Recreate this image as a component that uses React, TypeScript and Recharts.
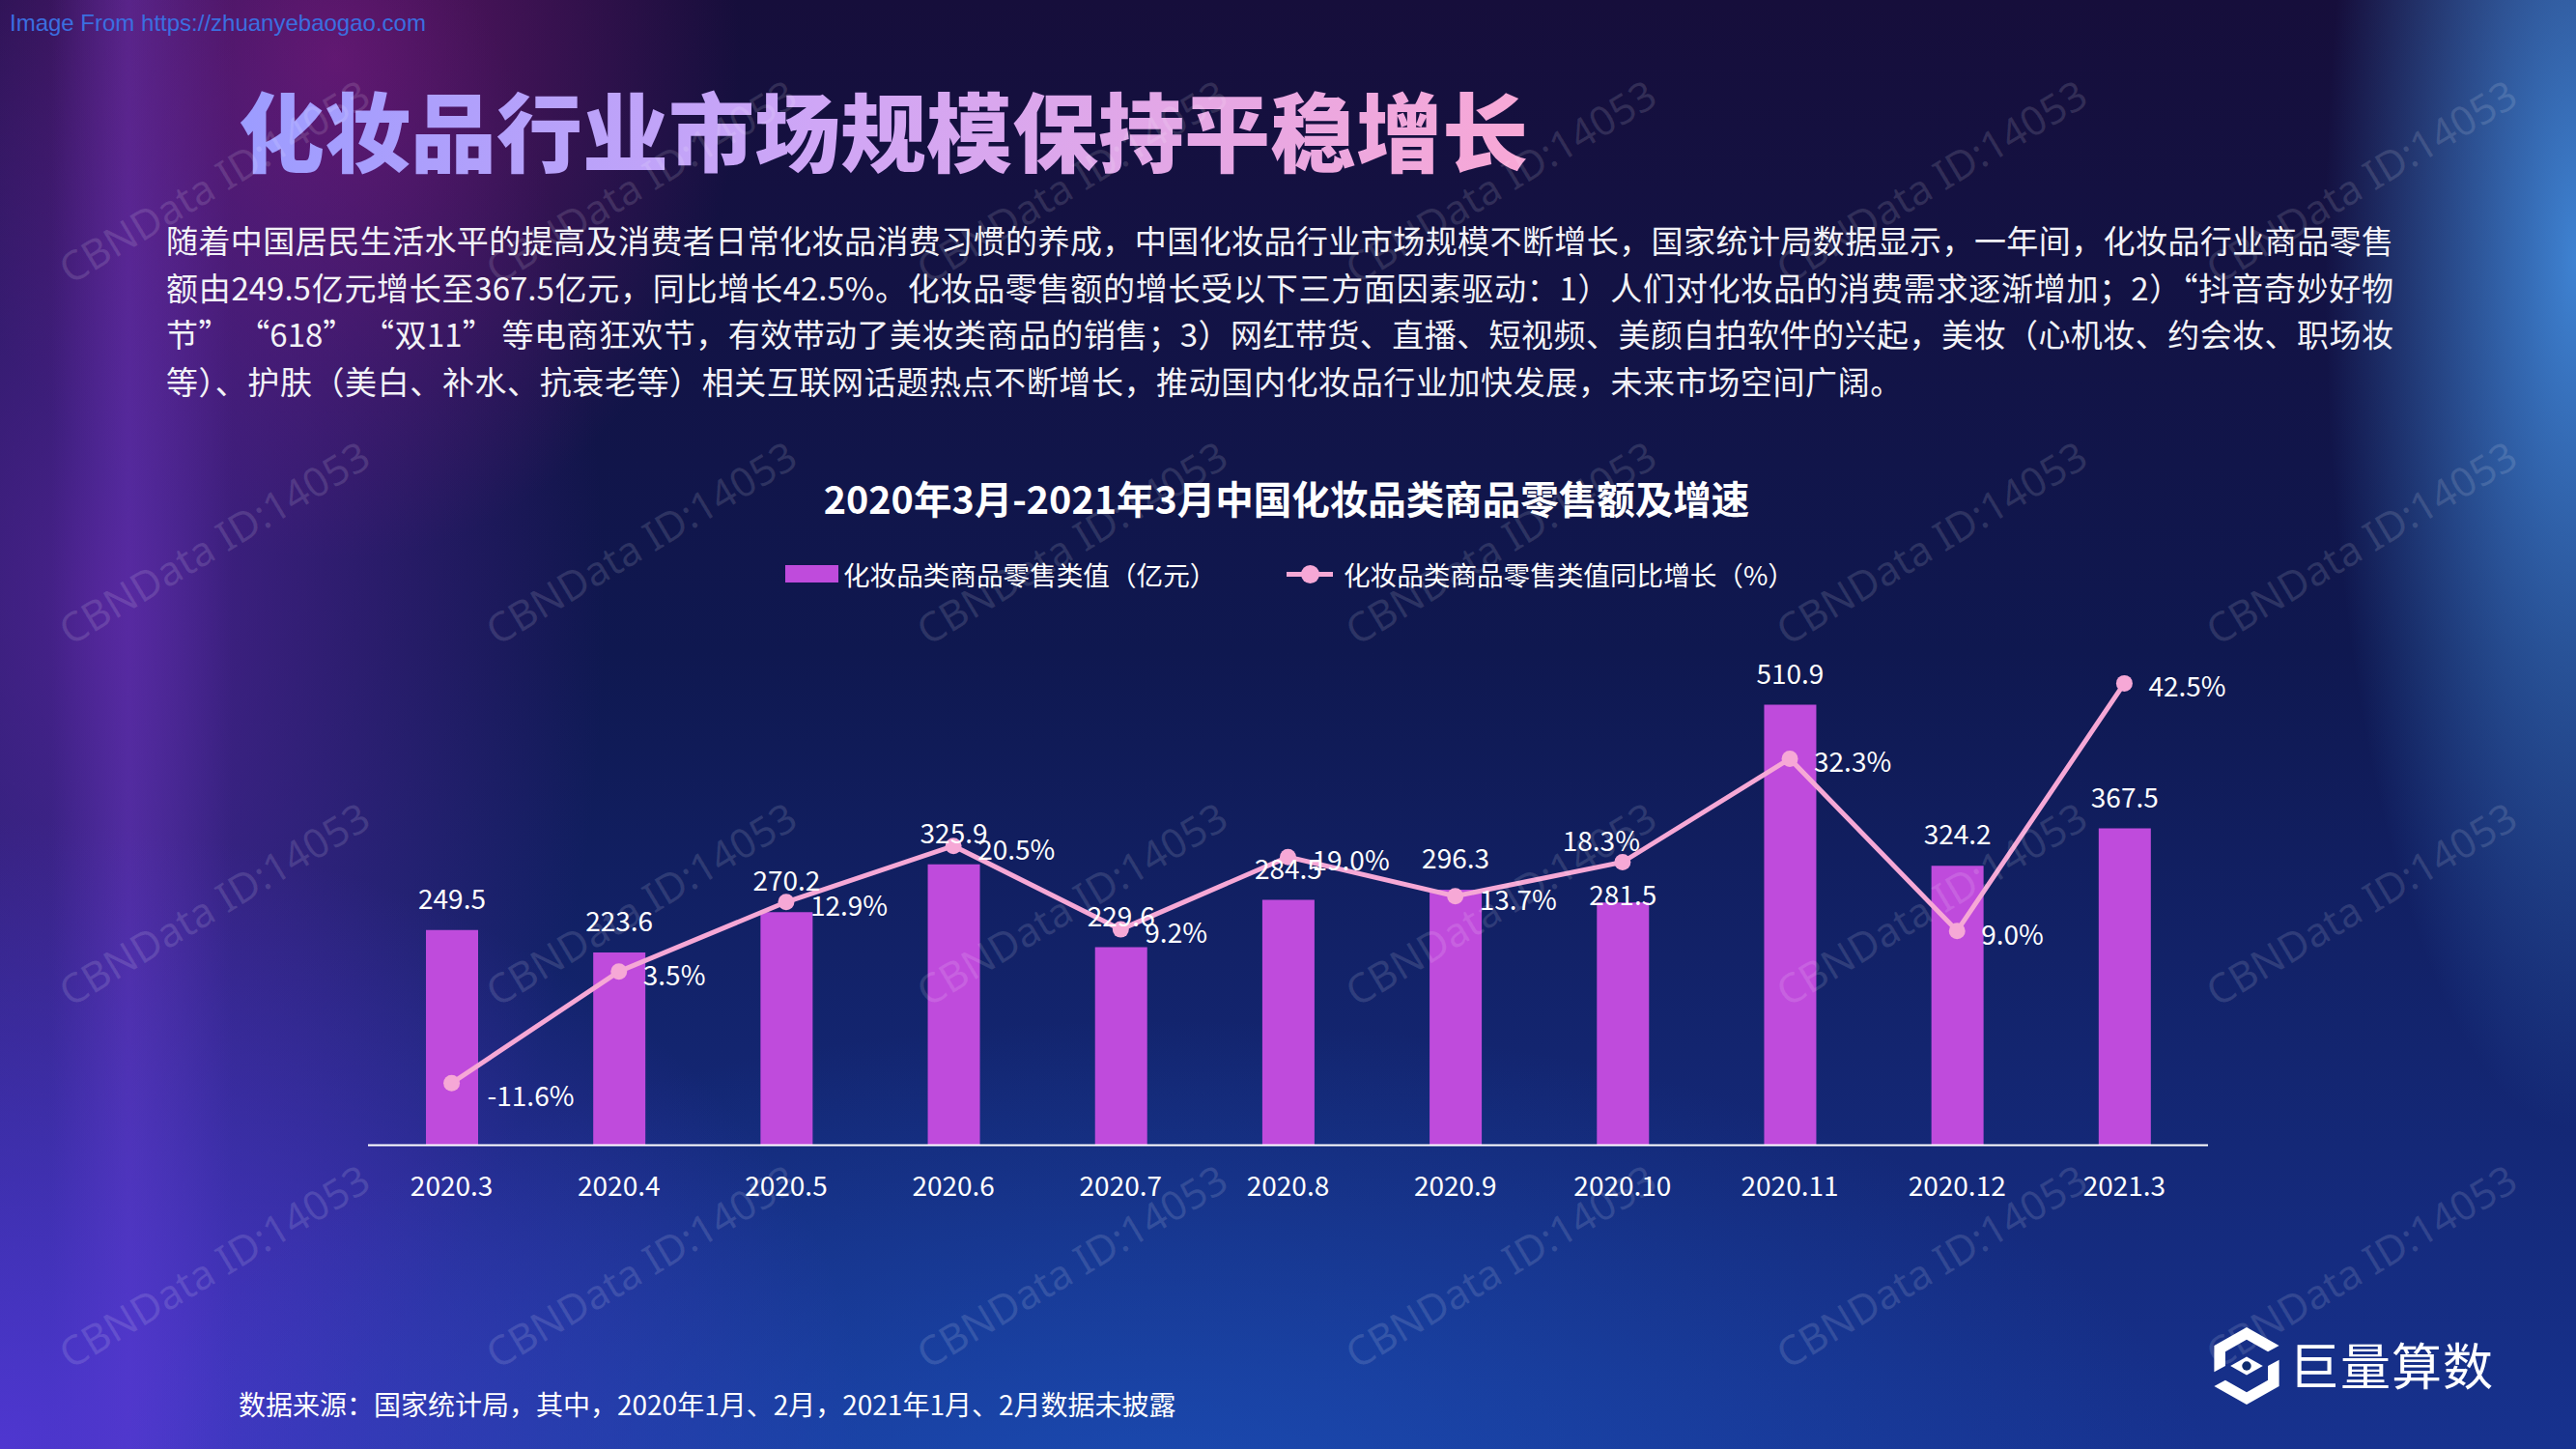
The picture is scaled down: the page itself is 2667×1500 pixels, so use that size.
import React from "react";
import { ComposedChart, Bar, Line, XAxis, YAxis, LabelList } from "recharts";

const months = [
  "2020.3", "2020.4", "2020.5", "2020.6", "2020.7", "2020.8",
  "2020.9", "2020.10", "2020.11", "2020.12", "2021.3",
];
const retailValues = [249.5, 223.6, 270.2, 325.9, 229.6, 284.5, 296.3, 281.5, 510.9, 324.2, 367.5];
const growthRates = [-11.6, 3.5, 12.9, 20.5, 9.2, 19.0, 13.7, 18.3, 32.3, 9.0, 42.5];

const barName = "化妆品类商品零售类值（亿元）";
const lineName = "化妆品类商品零售类值同比增长（%）";

const paragraphLines = [
  "随着中国居民生活水平的提高及消费者日常化妆品消费习惯的养成，中国化妆品行业市场规模不断增长，国家统计局数据显示，一年间，化妆品行业商品零售",
  "额由249.5亿元增长至367.5亿元，同比增长42.5%。化妆品零售额的增长受以下三方面因素驱动：1）人们对化妆品的消费需求逐渐增加；2）“抖音奇妙好物",
  "节” “618” “双11” 等电商狂欢节，有效带动了美妆类商品的销售；3）网红带货、直播、短视频、美颜自拍软件的兴起，美妆（心机妆、约会妆、职场妆",
  "等）、护肤（美白、补水、抗衰老等）相关互联网话题热点不断增长，推动国内化妆品行业加快发展，未来市场空间广阔。",
];

const data = months.map((m, i) => ({ month: m, retail: retailValues[i], growth: growthRates[i] }));

const FONT = '"Noto Sans CJK SC", "Noto Sans", sans-serif';
const BAR = "#bf4bdc";
const PINK = "#f6a8d6";

const W = 2667;
const H = 1500;

const background = [
  "radial-gradient(ellipse 260px 900px at 100% 18%, rgba(70,150,235,0.85), rgba(70,150,235,0) 100%)",
  "radial-gradient(ellipse 1100px 520px at 45% 105%, rgba(30,95,205,0.55), rgba(30,95,205,0) 100%)",
  "radial-gradient(ellipse 900px 650px at 0% 100%, rgba(85,55,215,0.9), rgba(85,55,215,0) 100%)",
  "radial-gradient(ellipse 520px 950px at 4% 42%, rgba(105,40,175,0.65), rgba(105,40,175,0) 100%)",
  "radial-gradient(ellipse 420px 520px at 13% 4%, rgba(135,25,125,0.65), rgba(135,25,125,0) 100%)",
  "linear-gradient(to right, rgba(100,60,200,0) 2%, rgba(110,70,210,0.45) 5%, rgba(100,60,200,0) 9%)",
  "linear-gradient(to bottom, #160e3b 0%, #0f1850 45%, #17328f 100%)",
].join(",");

const BarLabel = (props: any) => {
  const { x, y, width, value, index } = props;
  const lift = months[index] === "2020.10" ? 9 : 34;
  return (
    <text x={x + width / 2} y={y - lift} fill="#fff" fontSize={28} fontFamily={FONT}
      textAnchor="middle" dominantBaseline="central">
      {value}
    </text>
  );
};

const LineLabel = (props: any) => {
  const { x, y, value, index } = props;
  const m = months[index];
  let tx = x + 25;
  let ty = y + 2;
  let anchor: "start" | "middle" = "start";
  if (m === "2020.3") {
    tx = x + 37;
    ty = y + 12;
  } else if (m === "2020.10") {
    tx = x - 22;
    ty = y - 24;
    anchor = "middle";
  }
  return (
    <text x={tx} y={ty} fill="#fff" fontSize={28} fontFamily={FONT}
      textAnchor={anchor} dominantBaseline="central">
      {value.toFixed(1)}%
    </text>
  );
};

const MonthTick = (props: any) => {
  const { x, y, payload } = props;
  return (
    <text x={x} y={y + 32} fill="#fff" fontSize={28} fontFamily={FONT}
      textAnchor="middle" dominantBaseline="central">
      {payload.value}
    </text>
  );
};

const Logo = () => (
  <svg width={80} height={84} viewBox="0 0 72 80" style={{ position: "absolute", left: 2286, top: 1372 }}>
    <path d="M4 20 L36 2 L68 20 L57 26 L36 14 L15 26 L15 40 L4 46 Z" fill="#fff" />
    <path d="M68 34 L68 60 L36 78 L4 60 L15 54 L36 66 L57 54 L57 40 Z" fill="#fff" />
    <path d="M20 40 L36 31 L52 40 L36 49 Z" fill="#fff" />
    <circle cx={36} cy={40} r={4.5} fill="#0d2a6e" />
  </svg>
);

const watermarkXs = [221, 663, 1109, 1553, 1999, 2444];
const watermarkYs = [187, 561, 935, 1310];

export default function App() {
  return (
    <div style={{ position: "fixed", left: 0, top: 0, width: W, height: H, overflow: "hidden", background, fontFamily: FONT }}>
      <div style={{ position: "absolute", left: 10, top: 10, fontSize: 24, lineHeight: "28px", color: "#3b6fe0", fontFamily: '"Liberation Sans Narrow", "Liberation Sans", sans-serif' }}>
        Image From https://zhuanyebaogao.com
      </div>

      <div style={{
        position: "absolute", left: 247, top: 80, fontSize: 89, lineHeight: "106px", fontWeight: 900,
        background: "linear-gradient(to right, #9c9cff 0%, #cfa6f6 45%, #f8a8d6 100%)",
        WebkitBackgroundClip: "text", backgroundClip: "text", color: "transparent", whiteSpace: "nowrap",
      }}>
        化妆品行业市场规模保持平稳增长
      </div>

      <div style={{ position: "absolute", left: 172, top: 224, width: 2306, color: "#f2f2f7", fontSize: 33 }}>
        {paragraphLines.map((line, i) => (
          <div key={i} style={{
            height: 48.5, lineHeight: "48.5px", textAlign: "justify",
            textAlignLast: i < paragraphLines.length - 1 ? "justify" : "left",
            letterSpacing: i === paragraphLines.length - 1 ? 0.6 : 0,
          }}>
            {line}
          </div>
        ))}
      </div>

      <div style={{ position: "absolute", left: 1332, top: 490, transform: "translateX(-50%)", fontSize: 39.5, lineHeight: "50px", fontWeight: 700, color: "#fff", whiteSpace: "nowrap" }}>
        2020年3月-2021年3月中国化妆品类商品零售额及增速
      </div>

      <div style={{ position: "absolute", top: 574, left: 0, height: 40, width: W, color: "#fff", fontSize: 27.6 }}>
        <div style={{ position: "absolute", left: 813, top: 11, width: 55, height: 18, background: BAR }} />
        <div style={{ position: "absolute", left: 873, top: 0, lineHeight: "40px", whiteSpace: "nowrap" }}>{barName}</div>
        <div style={{ position: "absolute", left: 1332, top: 18, width: 48, height: 5, background: PINK }} />
        <div style={{ position: "absolute", left: 1347, top: 11, width: 19, height: 19, borderRadius: "50%", background: PINK }} />
        <div style={{ position: "absolute", left: 1391, top: 0, lineHeight: "40px", whiteSpace: "nowrap" }}>{lineName}</div>
      </div>

      <div style={{ position: "absolute", left: 0, top: 0 }}>
        <ComposedChart width={W} height={H} data={data}
          margin={{ top: 650, right: W - 2286, bottom: H - 1185.5 - 60, left: 381 }}>
          <XAxis dataKey="month" height={60} tickLine={false} axisLine={{ stroke: "#ffffff", strokeWidth: 2 }}
            tick={<MonthTick />} interval={0} />
          <YAxis yAxisId="left" domain={[0, 600]} hide />
          <YAxis yAxisId="right" orientation="right" domain={[-20, 50]} hide />
          <Bar yAxisId="left" dataKey="retail" name={barName} fill={BAR} barSize={54} isAnimationActive={false}>
            <LabelList dataKey="retail" content={<BarLabel />} />
          </Bar>
          <Line yAxisId="right" dataKey="growth" name={lineName} stroke={PINK} strokeWidth={5}
            dot={{ r: 8.5, fill: PINK, stroke: "none" }} activeDot={false} isAnimationActive={false}>
            <LabelList dataKey="growth" content={<LineLabel />} />
          </Line>
        </ComposedChart>
      </div>

      <div style={{ position: "absolute", left: 247, top: 1433, fontSize: 28, lineHeight: "40px", color: "#fff", whiteSpace: "nowrap" }}>
        数据来源：国家统计局，其中，2020年1月、2月，2021年1月、2月数据未披露
      </div>

      <Logo />
      <div style={{ position: "absolute", left: 2370, top: 1380, fontSize: 52, lineHeight: "64px", color: "#fff", whiteSpace: "nowrap", letterSpacing: 1 }}>
        巨量算数
      </div>

      <div style={{ position: "absolute", left: 0, top: 0, width: W, height: H, pointerEvents: "none" }}>
        {watermarkYs.map((wy) =>
          watermarkXs.map((wx) => (
            <div key={`${wx}-${wy}`} style={{
              position: "absolute", left: wx, top: wy, transform: "translate(-50%, -50%) rotate(-31deg)",
              fontSize: 42, color: "rgba(255,255,255,0.13)", whiteSpace: "nowrap", fontFamily: '"Noto Sans", sans-serif',
            }}>
              CBNData ID:14053
            </div>
          ))
        )}
      </div>
    </div>
  );
}
